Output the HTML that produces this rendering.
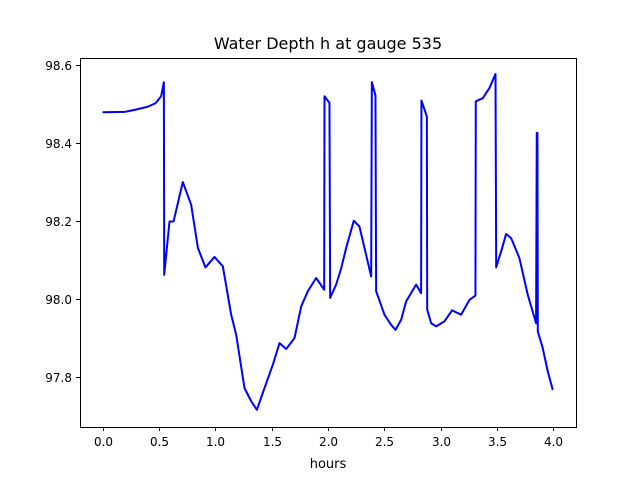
<!DOCTYPE html>
<html><head><meta charset="utf-8"><style>
body{margin:0;background:#fff;}
svg{display:block;font-family:"DejaVu Sans","Liberation Sans",sans-serif;}
</style></head><body>
<svg id="chart" width="640" height="480">
<rect width="640" height="480" fill="#fff"/>
<text x="328" y="49" text-anchor="middle" font-size="16">Water Depth h at gauge 535</text>
<text x="328" y="468" text-anchor="middle" font-size="13">hours</text>
<g id="ticks"></g>
<path id="line" fill="none" stroke="#0000ff" stroke-width="2" stroke-linejoin="round"/>
<rect x="80.5" y="58.5" width="496" height="369" fill="none" stroke="#000" stroke-width="1"/>
</svg>
<script>
const times = [0,0.2,0.3,0.4,0.47,0.52,0.544,0.547,0.594,0.63,0.712,0.786,0.846,0.913,0.993,1.067,1.141,1.186,1.259,1.319,1.369,1.437,1.511,1.57,1.629,1.703,1.762,1.821,1.895,1.966,1.969,2.013,2.019,2.072,2.117,2.161,2.229,2.279,2.383,2.389,2.421,2.427,2.501,2.56,2.599,2.649,2.693,2.782,2.826,2.829,2.877,2.88,2.915,2.96,3.033,3.101,3.181,3.255,3.308,3.311,3.373,3.432,3.486,3.492,3.545,3.58,3.625,3.698,3.772,3.846,3.852,3.858,3.861,3.905,3.95,3.994];
const depths = [98.479,98.48,98.486,98.493,98.502,98.52,98.556,98.062,98.199,98.199,98.30,98.242,98.131,98.081,98.108,98.084,97.96,97.908,97.772,97.738,97.716,97.772,97.832,97.887,97.872,97.9,97.981,98.02,98.054,98.024,98.52,98.503,98.003,98.037,98.079,98.131,98.201,98.186,98.058,98.556,98.522,98.02,97.96,97.934,97.921,97.947,97.994,98.037,98.015,98.509,98.468,97.973,97.938,97.93,97.943,97.971,97.96,97.998,98.009,98.507,98.515,98.541,98.577,98.081,98.131,98.167,98.156,98.105,98.011,97.938,98.426,98.426,97.917,97.874,97.814,97.767];
const xTicks = [0,0.5,1,1.5,2,2.5,3,3.5,4];
const xTickLabels = ["0.0","0.5","1.0","1.5","2.0","2.5","3.0","3.5","4.0"];
const yTicks = [97.8,98.0,98.2,98.4,98.6];
const yTickLabels = ["97.8","98.0","98.2","98.4","98.6"];
const X0=80,X1=576,Y0=427,Y1=58;
const xMin=-0.2,xMax=4.2,yMin=97.672,yMax=98.618;
function sx(v){return X0+(v-xMin)/(xMax-xMin)*(X1-X0);}
function sy(v){return Y0-(v-yMin)/(yMax-yMin)*(Y0-Y1);}
const NS="http://www.w3.org/2000/svg";
const g=document.getElementById('ticks');
xTicks.forEach((t,i)=>{
  const x=Math.round(sx(t))+0.5;
  const l=document.createElementNS(NS,'line');
  l.setAttribute('x1',x);l.setAttribute('x2',x);l.setAttribute('y1',427);l.setAttribute('y2',431);l.setAttribute('stroke','#000');
  
  
  g.appendChild(l);
  const tx=document.createElementNS(NS,'text');
  tx.setAttribute('x',x);tx.setAttribute('y',446);tx.setAttribute('text-anchor','middle');tx.setAttribute('font-size','12');
  tx.textContent=xTickLabels[i];
  
  
  g.appendChild(tx);
});
yTicks.forEach((t,i)=>{
  const y=Math.round(sy(t))+0.5;
  const l=document.createElementNS(NS,'line');
  l.setAttribute('x1',76);l.setAttribute('x2',80);l.setAttribute('y1',y);l.setAttribute('y2',y);l.setAttribute('stroke','#000');
  
  
  g.appendChild(l);
  const tx=document.createElementNS(NS,'text');
  tx.setAttribute('x',72);tx.setAttribute('y',y+4.5);tx.setAttribute('text-anchor','end');tx.setAttribute('font-size','12');
  tx.textContent=yTickLabels[i];
  
  
  g.appendChild(tx);
});
let d='';
times.forEach((t,i)=>{d+=(i?'L':'M')+sx(t).toFixed(2)+','+sy(depths[i]).toFixed(2);});
document.getElementById('line').setAttribute('d',d);
</script>
</body></html>
